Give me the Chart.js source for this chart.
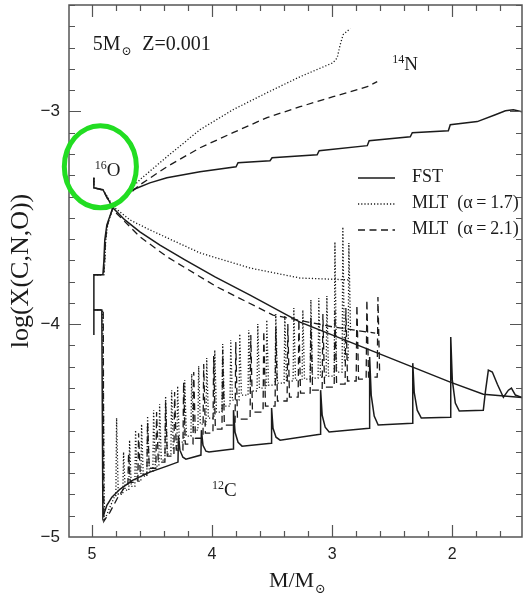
<!DOCTYPE html>
<html>
<head>
<meta charset="utf-8">
<title>CNO surface abundances</title>
<script src="https://cdn.jsdelivr.net/npm/chart.js@4.4.1/dist/chart.umd.min.js"></script>
<style>
  html, body { margin: 0; padding: 0; background: #fff; }
  #wrap { width: 531px; height: 598px; }
</style>
</head>
<body>
<div id="wrap"><canvas id="cno-chart" width="531" height="598"></canvas></div>
<script>
// axis ranges (mass decreases to the right)
const massRange = [1.42, 5.19];
const logRange = [-5, -2.5];
const massLabels = [5, 4, 3, 2];
const logLabels = [-5, -4, -3];

// 14N  [M/Msun, log X]
const fstN = [[4.983,-4.051],[4.983,-3.768],[4.908,-3.768],[4.900,-3.707],[4.892,-3.604],[4.875,-3.533],[4.825,-3.453],[4.658,-3.368],[4.517,-3.336],[4.375,-3.312],[4.100,-3.284],[3.800,-3.260],[3.783,-3.241],[3.517,-3.232],[3.500,-3.218],[3.125,-3.204],[3.108,-3.185],[2.708,-3.161],[2.692,-3.138],[2.350,-3.119],[2.333,-3.100],[2.033,-3.091],[2.017,-3.063],[1.792,-3.048],[1.642,-3.016],[1.558,-2.997],[1.492,-2.992],[1.417,-3.002]];
const mlt17N = [[4.983,-3.768],[4.900,-3.768],[4.892,-3.707],[4.884,-3.604],[4.868,-3.533],[4.825,-3.450],[4.725,-3.392],[4.600,-3.321],[4.375,-3.213],[4.100,-3.086],[3.825,-2.992],[3.542,-2.912],[3.267,-2.837],[2.992,-2.771],[2.958,-2.748],[2.933,-2.686],[2.908,-2.639],[2.850,-2.611]];
const mlt21N = [[4.983,-3.768],[4.902,-3.768],[4.894,-3.707],[4.886,-3.604],[4.870,-3.533],[4.825,-3.453],[4.600,-3.345],[4.375,-3.260],[4.100,-3.171],[3.825,-3.100],[3.542,-3.029],[3.267,-2.978],[2.992,-2.931],[2.708,-2.884],[2.625,-2.860]];

// 16O
const fstO = [[4.983,-3.312],[4.983,-3.359],[4.908,-3.368],[4.825,-3.453],[4.725,-3.510],[4.600,-3.566],[4.433,-3.628],[4.225,-3.698],[3.975,-3.778],[3.683,-3.863],[3.267,-3.990],[2.850,-4.084],[2.433,-4.178],[2.017,-4.272],[1.742,-4.329],[1.408,-4.345]];
const mlt17O = [[4.983,-3.312],[4.983,-3.359],[4.905,-3.370],[4.820,-3.448],[4.683,-3.510],[4.517,-3.557],[4.100,-3.665],[3.683,-3.736],[3.267,-3.783],[2.850,-3.792]];
const mlt21O = [[4.983,-3.312],[4.983,-3.359],[4.906,-3.370],[4.825,-3.462],[4.600,-3.589],[4.375,-3.683],[3.958,-3.825],[3.492,-3.957],[2.992,-4.013],[2.642,-4.042]];

// 12C, FST: third dredge-up spikes followed by HBB burning
const fstC = [[4.983,-3.933],[4.917,-3.933],[4.908,-4.907],[4.875,-4.851],[4.833,-4.813],[4.767,-4.776],[4.658,-4.733],[4.517,-4.695],[4.375,-4.667],[4.283,-4.648],
  [4.279,-4.526],[4.267,-4.592],[4.242,-4.625],[4.217,-4.634],
  [4.092,-4.615],[4.088,-4.498],[4.075,-4.569],[4.050,-4.597],[4.025,-4.601],
  [3.825,-4.587],[3.821,-4.404],[3.808,-4.508],[3.783,-4.555],[3.750,-4.573],
  [3.508,-4.559],[3.504,-4.394],[3.492,-4.489],[3.467,-4.531],[3.433,-4.545],
  [3.100,-4.517],[3.096,-4.310],[3.083,-4.428],[3.058,-4.484],[3.025,-4.507],
  [2.692,-4.489],[2.688,-4.154],[2.675,-4.333],[2.650,-4.432],[2.617,-4.474],
  [2.333,-4.465],[2.329,-4.183],[2.317,-4.320],[2.292,-4.404],[2.258,-4.441],
  [2.017,-4.437],[2.013,-4.060],[2.000,-4.263],[1.975,-4.371],[1.942,-4.408],
  [1.742,-4.404],[1.725,-4.319],[1.700,-4.216],[1.667,-4.225],[1.625,-4.282],[1.575,-4.343],[1.533,-4.310],[1.508,-4.300],[1.475,-4.333],[1.408,-4.347]];

// 12C, MLT runs: early descent, then pulses as [mass, peak, floor after the pulse]
const mlt17CStart = [[4.983,-3.933],[4.910,-3.933],[4.895,-4.922],[4.850,-4.860],[4.817,-4.818],[4.808,-4.805]];
const mlt17Pulses = [[4.800,-4.441,-4.799],[4.742,-4.601,-4.780],[4.692,-4.545,-4.762],[4.642,-4.498,-4.738],[4.592,-4.470,-4.714],[4.542,-4.432,-4.691],[4.492,-4.404,-4.667],[4.442,-4.376,-4.639],[4.392,-4.338,-4.611],[4.342,-4.310,-4.583],[4.292,-4.291,-4.554],[4.233,-4.263,-4.526],[4.175,-4.234,-4.498],[4.117,-4.197,-4.470],[4.050,-4.159,-4.441],[3.983,-4.121,-4.413],[3.917,-4.093,-4.385],[3.850,-4.074,-4.357],[3.775,-4.046,-4.333],[3.700,-4.027,-4.314],[3.625,-3.999,-4.300],[3.550,-3.980,-4.286],[3.475,-3.952,-4.277],[3.400,-3.961,-4.267],[3.325,-3.924,-4.263],[3.250,-3.933,-4.258],[3.183,-3.886,-4.253],[3.117,-3.877,-4.249],[3.050,-3.867,-4.244],[2.983,-3.613,-4.225],[2.917,-3.543,-4.169],[2.867,-3.618,-4.030]];
const mlt21CStart = [[4.983,-3.933],[4.905,-3.933],[4.900,-4.926],[4.850,-4.884],[4.783,-4.813],[4.733,-4.771],[4.705,-4.752]];
const mlt21Pulses = [[4.700,-4.606,-4.743],[4.617,-4.512,-4.705],[4.542,-4.460,-4.677],[4.467,-4.413,-4.648],[4.392,-4.366,-4.620],[4.317,-4.319,-4.592],[4.242,-4.272,-4.564],[4.158,-4.225,-4.536],[4.075,-4.187,-4.512],[3.992,-4.150,-4.493],[3.917,-4.121,-4.474],[3.808,-4.084,-4.446],[3.683,-4.051,-4.413],[3.575,-4.032,-4.385],[3.475,-4.013,-4.361],[3.375,-3.999,-4.343],[3.283,-3.980,-4.324],[3.183,-3.966,-4.310],[3.083,-3.952,-4.296],[2.983,-3.938,-4.282],[2.892,-3.924,-4.267],[2.800,-3.910,-4.258],[2.717,-3.886,-4.249],[2.625,-3.872,-4.225]];

const toXY = arr => arr.map(([x, y]) => ({x, y}));

// each pulse rises from the previous floor to its peak and drops back to its new floor
function pulseTrack(start, pulses) {
  const pts = toXY(start);
  let floor = start[start.length - 1][1];
  pulses.forEach(([m, peak, low]) => {
    pts.push({x: m, y: floor}, {x: m - 0.006, y: peak}, {x: m - 0.02, y: low});
    floor = low;
  });
  return pts;
}

const INK = '#1b1b1b';
const models = {
  fst:   {label: 'FST',            dash: [],       width: 1.5},
  mlt17: {label: 'MLT  (\u03b1\u2009=\u20091.7)', dash: [1.2, 2.0], width: 1.3},
  mlt21: {label: 'MLT  (\u03b1\u2009=\u20092.1)', dash: [7, 4.5],   width: 1.3}
};

function track(model, data) {
  const m = models[model];
  return {
    model: model,
    data: data,
    showLine: true,
    borderColor: INK,
    borderWidth: m.width,
    borderDash: m.dash,
    pointRadius: 0,
    tension: 0,
    fill: false
  };
}

const serif = '"Liberation Serif", "DejaVu Serif", serif';
const sans = '"Liberation Sans", Arial, sans-serif';

// frame with inward tick marks on all four sides
const frameTicks = {
  id: 'frameTicks',
  afterDatasetsDraw(chart) {
    const {ctx, chartArea: a, scales: {x, y}} = chart;
    ctx.save();
    ctx.strokeStyle = '#555';
    ctx.lineWidth = 1.5;
    ctx.strokeRect(a.left, a.top, a.right - a.left, a.bottom - a.top);
    ctx.lineWidth = 1.2;
    ctx.beginPath();
    for (let i = 8; i <= 25; i++) {
      const v = i / 5;
      const px = Math.round(x.getPixelForValue(v)) + 0.5;
      if (px <= a.left || px >= a.right) continue;
      const len = i % 5 === 0 ? 12 : 6;
      ctx.moveTo(px, a.bottom); ctx.lineTo(px, a.bottom - len);
      ctx.moveTo(px, a.top); ctx.lineTo(px, a.top + len);
    }
    for (let i = -50; i <= -25; i++) {
      const v = i / 10;
      const py = Math.round(y.getPixelForValue(v)) + 0.5;
      if (py <= a.top || py >= a.bottom) continue;
      const len = i % 10 === 0 ? 12 : 6;
      ctx.moveTo(a.left, py); ctx.lineTo(a.left + len, py);
      ctx.moveTo(a.right, py); ctx.lineTo(a.right - len, py);
    }
    ctx.stroke();
    ctx.restore();
  }
};

// isotope labels, run title, legend, x-axis title and the circled 16O
const annotations = {
  id: 'annotations',
  afterDraw(chart) {
    const {ctx, chartArea: a, scales: {x, y}} = chart;
    ctx.save();
    ctx.fillStyle = INK;
    ctx.textBaseline = 'alphabetic';

    const iso = (mass, logx, a1, sym) => {
      let px = x.getPixelForValue(mass);
      const py = y.getPixelForValue(logx);
      ctx.font = '12px ' + serif;
      ctx.fillText(a1, px, py - 7);
      px += ctx.measureText(a1).width;
      ctx.font = '19px ' + serif;
      ctx.fillText(sym, px, py);
    };
    iso(4.975, -3.303, '16', 'O');
    iso(2.50, -2.804, '14', 'N');
    iso(4.00, -4.809, '12', 'C');

    // run title
    let tx = x.getPixelForValue(4.992);
    const ty = y.getPixelForValue(-2.710);
    ctx.font = '20px ' + serif;
    ctx.fillText('5M', tx, ty);
    tx += ctx.measureText('5M').width;
    ctx.font = '12px ' + serif;
    ctx.fillText('\u2299', tx + 1, ty + 5);
    ctx.font = '20px ' + serif;
    ctx.fillText('Z=0.001', x.getPixelForValue(4.58), ty);

    // legend
    ['fst', 'mlt17', 'mlt21'].forEach((k, i) => {
      const m = models[k];
      const base = a.top + 177 + i * 26;
      ctx.save();
      ctx.strokeStyle = INK;
      ctx.lineWidth = m.width;
      ctx.setLineDash(m.dash);
      ctx.beginPath();
      ctx.moveTo(a.left + 289, base - 4);
      ctx.lineTo(a.left + 326, base - 4);
      ctx.stroke();
      ctx.restore();
      ctx.font = '18px ' + serif;
      ctx.fillText(m.label, a.left + 343, base);
    });

    // x-axis title
    ctx.font = '22px ' + serif;
    const t = 'M/M';
    const w = ctx.measureText(t).width;
    const cx = (a.left + a.right) / 2 - 4;
    ctx.fillText(t, cx - w / 2, 587);
    ctx.font = '13px ' + serif;
    ctx.fillText('\u2299', cx + w / 2 + 1, 593);

    // highlight around the 16O start
    ctx.strokeStyle = '#22dd22';
    ctx.lineWidth = 5;
    ctx.beginPath();
    const ex = x.getPixelForValue(4.929), ey = y.getPixelForValue(-3.26);
    const rx = Math.abs(x.getPixelForValue(4.929 - 0.30) - ex);
    const ry = Math.abs(y.getPixelForValue(-3.26 + 0.193) - ey);
    ctx.ellipse(ex, ey, rx, ry, 0, 0, Math.PI * 2);
    ctx.stroke();
    ctx.restore();
  }
};

new Chart(document.getElementById('cno-chart').getContext('2d'), {
  type: 'scatter',
  data: {
    datasets: [
      track('fst', toXY(fstN)),
      track('mlt17', toXY(mlt17N)),
      track('mlt21', toXY(mlt21N)),
      track('fst', toXY(fstO)),
      track('mlt17', toXY(mlt17O)),
      track('mlt21', toXY(mlt21O)),
      track('fst', toXY(fstC)),
      track('mlt17', pulseTrack(mlt17CStart, mlt17Pulses)),
      track('mlt21', pulseTrack(mlt21CStart, mlt21Pulses))
    ]
  },
  options: {
    responsive: false,
    devicePixelRatio: 1,
    animation: false,
    layout: { padding: { top: 5, right: 9, left: 0, bottom: 0 } },
    scales: {
      x: {
        type: 'linear',
        reverse: true,
        min: massRange[0],
        max: massRange[1],
        afterFit: s => { s.height = 61; s.paddingLeft = 0; s.paddingRight = 0; },
        afterBuildTicks: s => { s.ticks = massLabels.map(v => ({value: v})); },
        grid: { display: false, drawTicks: false },
        border: { display: false },
        ticks: {
          color: '#222',
          padding: 8,
          maxRotation: 0,
          font: { family: sans, size: 16 }
        }
      },
      y: {
        type: 'linear',
        min: logRange[0],
        max: logRange[1],
        afterFit: s => { s.width = 69; s.paddingTop = 0; s.paddingBottom = 0; },
        afterBuildTicks: s => { s.ticks = logLabels.map(v => ({value: v})); },
        grid: { display: false, drawTicks: false },
        border: { display: false },
        title: {
          display: true,
          text: 'log(X(C,N,O))',
          color: INK,
          padding: { top: 6, bottom: 0 },
          font: { family: serif, size: 26 }
        },
        ticks: {
          color: '#222',
          padding: 9,
          callback: v => '\u2212' + Math.abs(v),
          font: { family: sans, size: 17 }
        }
      }
    },
    plugins: {
      legend: { display: false },
      tooltip: { enabled: false }
    }
  },
  plugins: [frameTicks, annotations]
});
</script>
</body>
</html>
